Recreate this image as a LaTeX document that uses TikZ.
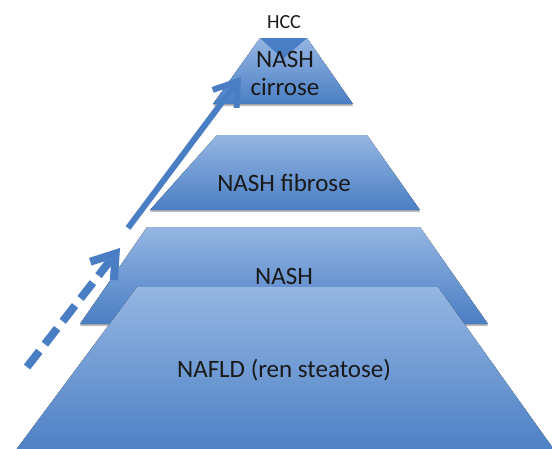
\documentclass[tikz,border=0pt]{standalone}
\usepackage{fontspec}
\setmainfont{Carlito}
\usetikzlibrary{arrows.meta,shadows}
\definecolor{layerlight}{HTML}{95B6E2}
\definecolor{layerdark}{HTML}{4A7EC4}
\definecolor{arrowblue}{HTML}{4A7EC4}

\begin{document}
\begin{tikzpicture}[x=1pt,y=-1pt,
		layer/.style={top color=layerlight,bottom color=layerdark,
			drop shadow={shadow xshift=0pt,shadow yshift=-2pt,opacity=.25,fill=black}},
		stage/.style={font=\fontsize{25}{28}\selectfont,text=black!90,align=center,inner sep=0pt},
		progress/.style={color=arrowblue,-{Straight Barb[length=22pt,width=30pt]}}]
			\useasboundingbox (0,0) rectangle (552,448);
			\clip (0,0) rectangle (552,448);
			%pyramid layers
			\fill[layer] (260,38)--(307,38)--(353,104)--(213,104)--cycle;
			\fill[arrowblue] (260,38)--(307,38)--(283,59)--cycle;
			\fill[layer] (217,135)--(367,135)--(420,210)--(150,210)--cycle;
			\fill[layer] (147,227)--(420,227)--(488,324)--(80,324)--cycle;
			\fill[layer] (137,287)--(438,287)--(560,458)--(10,458)--cycle;
			%arrows
			\coordinate (dash_s) at (27,367);
			\coordinate (dash_e) at (120,248);
			\coordinate (line_s) at (128,228);
			\coordinate (line_e) at (241,77);
			\draw[progress,line width=8pt,dash pattern=on 20pt off 9pt] (dash_s)--(dash_e);
			\draw[progress,line width=6pt] (line_s)--(line_e);
			%labels
			\node[stage,font=\fontsize{20}{22}\selectfont,anchor=base] (hcc) at (284,28) {HCC};
			\node[stage] (cirrose) at (285,73) {NASH\\cirrose};
			\node[stage,anchor=base] (fibrose) at (284,191) {NASH fibrose};
			\node[stage,anchor=base] (nash) at (284,284) {NASH};
			\node[stage,anchor=base] (nafld) at (284,377) {NAFLD (ren steatose)};
		\end{tikzpicture}
\end{document}
